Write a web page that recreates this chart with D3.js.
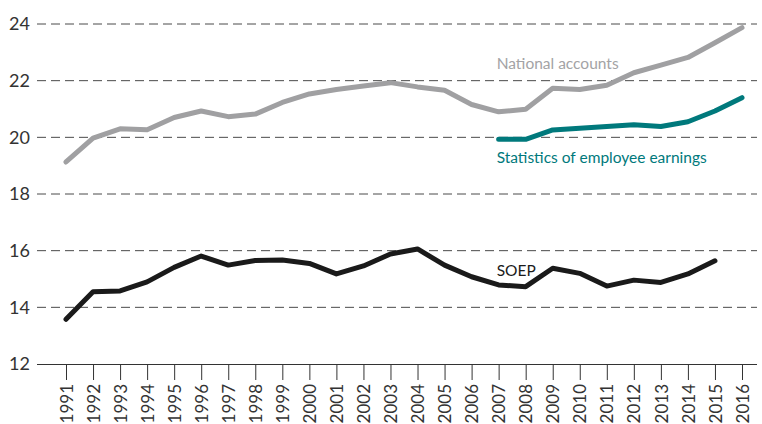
<!DOCTYPE html>
<html>
<head>
<meta charset="utf-8">
<script src="https://cdn.jsdelivr.net/npm/d3@7"></script>
<style>
  body { margin: 0; background: #fff; }
  svg { font-family: Lato, "Open Sans", sans-serif; }
</style>
</head>
<body>
<svg id="chart" width="762" height="424"></svg>
<script>
const years = d3.range(1991, 2017);

const nationalAccounts = [19.13, 19.97, 20.3, 20.27, 20.7, 20.93, 20.73, 20.82, 21.23, 21.53,
  21.69, 21.81, 21.93, 21.78, 21.66, 21.16, 20.9, 20.99, 21.73, 21.69,
  21.84, 22.28, 22.55, 22.82, 23.34, 23.87];

const employeeYears = d3.range(2007, 2017);
const employeeEarnings = [19.93, 19.93, 20.26, 20.32, 20.38, 20.44, 20.38, 20.55, 20.93, 21.4];

const soepYears = d3.range(1991, 2016);
const soep = [13.58, 14.55, 14.58, 14.9, 15.41, 15.81, 15.49, 15.65, 15.67, 15.55,
  15.18, 15.46, 15.88, 16.06, 15.49, 15.08, 14.79, 14.73, 15.38, 15.2,
  14.75, 14.96, 14.88, 15.18, 15.64];

const yTicks = [12, 14, 16, 18, 20, 22, 24];

const svg = d3.select('#chart');

const x = d3.scaleLinear()
  .domain([1991, 2016])
  .range([66, 742]);

const y = d3.scaleLinear()
  .domain([12, 24])
  .range([364, 24]);

const left = 37;
const right = 757;

// grid
svg.append('g')
  .selectAll('line')
  .data(yTicks.filter((d) => d > 12))
  .join('line')
  .attr('x1', left)
  .attr('x2', right)
  .attr('y1', (d) => y(d))
  .attr('y2', (d) => y(d))
  .attr('stroke', '#4a4a4a')
  .attr('stroke-width', 1)
  .attr('stroke-dasharray', '9,5');

// y labels
svg.append('g')
  .selectAll('text')
  .data(yTicks)
  .join('text')
  .attr('x', 30)
  .attr('y', (d) => y(d))
  .attr('dy', '0.36em')
  .attr('text-anchor', 'end')
  .attr('fill', '#333')
  .attr('font-size', 18)
  .text((d) => d);

// x axis
const xAxis = svg.append('g')
  .attr('transform', `translate(0,${y(12)})`)
  .call(d3.axisBottom(x)
    .tickValues(years)
    .tickFormat(d3.format('d'))
    .tickSize(16)
    .tickSizeOuter(0));

xAxis.select('.domain')
  .attr('d', `M${left},0.5H${right}`)
  .attr('stroke', '#333');

xAxis.selectAll('.tick line').attr('stroke', '#333');

xAxis.selectAll('.tick text')
  .attr('font-family', 'Lato, "Open Sans", sans-serif')
  .attr('font-size', 17)
  .attr('fill', '#333')
  .attr('transform', 'rotate(-90)')
  .attr('text-anchor', 'end')
  .attr('x', -20)
  .attr('y', 0)
  .attr('dy', '0.36em');

const line = d3.line()
  .x((d) => x(d[0]))
  .y((d) => y(d[1]));

const series = [
  { years: years, values: nationalAccounts, color: '#a0a0a2' },
  { years: employeeYears, values: employeeEarnings, color: '#00797c' },
  { years: soepYears, values: soep, color: '#1a1a1a' },
];

svg.append('g')
  .selectAll('path')
  .data(series)
  .join('path')
  .attr('d', (s) => line(s.years.map((yr, i) => [yr, s.values[i]])))
  .attr('fill', 'none')
  .attr('stroke', (s) => s.color)
  .attr('stroke-width', 5)
  .attr('stroke-linejoin', 'round')
  .attr('stroke-linecap', 'round');

// labels
const labels = [
  { text: 'National accounts', color: '#a3a3a5', yr: 2007, v: 22.4 },
  { text: 'Statistics of employee earnings', color: '#00797c', yr: 2007, v: 19.1 },
  { text: 'SOEP', color: '#1a1a1a', yr: 2007, v: 15.12 },
];

svg.append('g')
  .selectAll('text')
  .data(labels)
  .join('text')
  .attr('x', (d) => x(d.yr) - 2)
  .attr('y', (d) => y(d.v))
  .attr('fill', (d) => d.color)
  .attr('font-size', 15.5)
  .text((d) => d.text);
</script>
</body>
</html>
